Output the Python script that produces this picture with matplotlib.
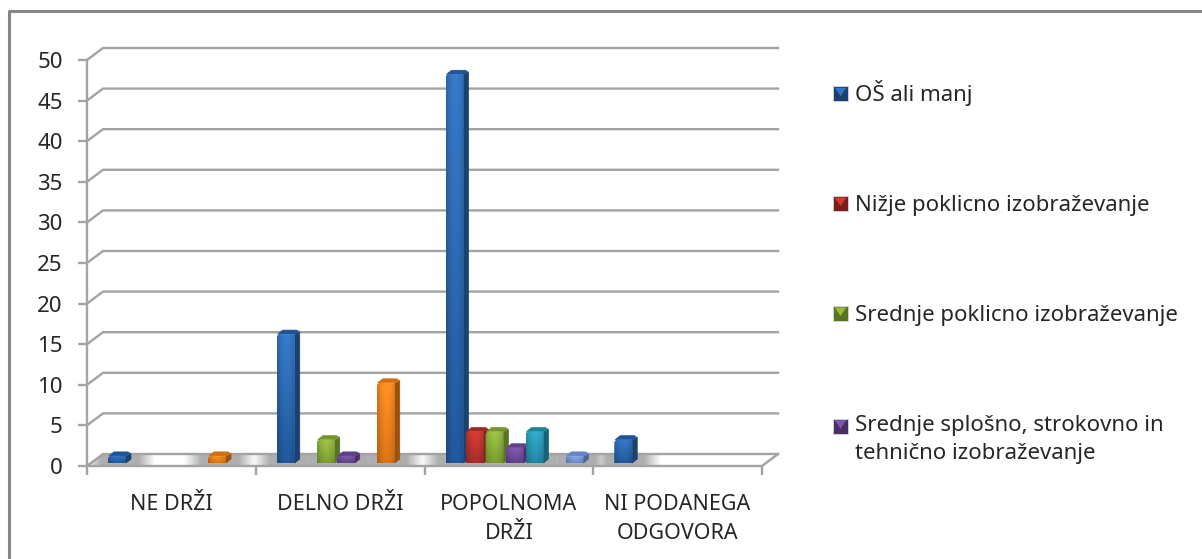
import numpy as np
import matplotlib
matplotlib.use('Agg')
import matplotlib.pyplot as plt
from matplotlib.colors import to_rgb
from matplotlib.legend_handler import HandlerBase
from matplotlib.patches import Patch, PathPatch, Polygon
from matplotlib.path import Path

plt.rcParams['font.family'] = ['Noto Sans', 'DejaVu Sans']

kategorije = ['NE DRŽI', 'DELNO DRŽI', 'POPOLNOMA\nDRŽI', 'NI PODANEGA\nODGOVORA']
legenda = ['OŠ ali manj', 'Nižje poklicno izobraževanje', 'Srednje poklicno izobraževanje',
           'Srednje splošno, strokovno in\ntehnično izobraževanje']

os_ali_manj = [1, 16, 48, 3]
nizje_poklicno = [0, 0, 4, 0]
srednje_poklicno = [0, 3, 4, 0]
srednje_splosno = [0, 1, 2, 0]
serija_5 = [0, 0, 4, 0]
serija_6 = [1, 10, 0, 0]
serija_7 = [0, 0, 1, 0]
serije = [os_ali_manj, nizje_poklicno, srednje_poklicno, srednje_splosno, serija_5, serija_6, serija_7]

# svetla, temna, stranska barva stolpca
barve = [('#3474c0', '#1f5595', '#1a416f'),
         ('#cf3a33', '#a02a26', '#7a1f1c'),
         ('#97bb42', '#76962f', '#5a7423'),
         ('#7f57ab', '#5f3f88', '#482f68'),
         ('#2ea6c4', '#20819b', '#186276'),
         ('#f88a22', '#d06f14', '#9a520e'),
         ('#86a5de', '#6585c4', '#4d6799')]

W, H = 1202, 559
fig = plt.figure(figsize=(W / 100, H / 100), dpi=100)
ax = fig.add_axes([87 / W, (H - 466) / H, 675 / W, 406 / H])
ax.set_xlim(0, 4)
ax.set_ylim(0, 50)
px = 4 / 675   # en piksel v enotah x
py = 50 / 406  # en piksel v enotah y
siva = '#a3a3a3'

# okvir grafikona
fig.add_artist(plt.Line2D([8.5 / W, 8.5 / W, 1], [0, (H - 11) / H, (H - 11) / H],
                          color='#868686', lw=2.2))

# tla s sencami pod stolpci
gx = np.linspace(0, 4 + 16 * px, 700)
senca = np.zeros_like(gx)
for s, vrednosti in enumerate(serije):
    for g, v in enumerate(vrednosti):
        if v > 0:
            a = g + (21 + 20 * s) * px
            b = a + 23 * px
            d = np.maximum(np.maximum(a - gx, gx - b), 0) / (24 * px)
            senca = np.maximum(senca, np.clip((1 - d) * 1.4, 0, 1))
tla = 1 - 0.32 * senca
slika = ax.imshow(np.tile(tla, (2, 1)), cmap='gray', vmin=0, vmax=1, aspect='auto', zorder=1,
                  extent=(0, 4 + 16 * px, 0, 12 * py), interpolation='bilinear')
rob = Polygon([(0, 0), (4, 0), (4 + 16 * px, 12 * py), (16 * px, 12 * py)], closed=True,
              transform=ax.transData, fc='none', ec='none')
ax.add_patch(rob)
slika.set_clip_path(rob)

# mrezne crte na zadnji steni
for v in range(0, 55, 5):
    ax.plot([0, 16 * px, 4 + 16 * px], [v, v + 12 * py, v + 12 * py], color=siva, lw=1.7,
            clip_on=False, zorder=2, solid_joinstyle='miter')
ax.plot([0, 4, 4 + 16 * px], [0, 0, 12 * py], color=siva, lw=1.7, clip_on=False, zorder=2)

# stolpci
SIRINA = 18 * px
GLOB_X = 5 * px
GLOB_Y = 4 * py
DNO = 3 * py
for s, vrednosti in enumerate(serije):
    sv, te, st = barve[s]
    for g, v in enumerate(vrednosti):
        if v == 0:
            continue
        x0 = g + (21 + 20 * s) * px
        x1 = x0 + SIRINA
        z = 3 + s + g * 0.01
        yt = DNO + v - 1 * py
        # stranska ploskev
        ax.add_patch(Polygon([(x1, DNO), (x1 + GLOB_X, DNO + GLOB_Y), (x1 + GLOB_X, yt + GLOB_Y - 2 * py),
                              (x1, yt)], closed=True, fc=st, ec=st, lw=0.5, zorder=z, clip_on=False))
        # zgornja ploskev
        ax.add_patch(Polygon([(x0 + 1 * px, yt), (x1, yt), (x1 + GLOB_X, yt + GLOB_Y - 2 * py),
                              (x1 + GLOB_X - 3 * px, yt + GLOB_Y), (x0 + 6 * px, yt + GLOB_Y)],
                             closed=True, fc=te, ec=te, lw=0.5, zorder=z, clip_on=False))
        # sprednja ploskev z gradientom
        n = 32
        a, b = np.array(to_rgb(sv)), np.array(to_rgb(te))
        t = np.linspace(0, 1, n)[:, None, None]
        vod = 0.72 + 0.28 * np.sin(np.linspace(0.35, 2.6, 18))[None, :, None]
        grad = np.clip((a * (1 - t) + b * t) * vod * 1.06, 0, 1)
        im = ax.imshow(grad, aspect='auto', extent=(x0, x1, DNO, yt), zorder=z + 0.1,
                       interpolation='bilinear')
        r = min(4, (yt - DNO) / py / 2)
        pot = Path([(x0, DNO), (x1, DNO), (x1, yt), (x0 + r * px, yt), (x0, yt),
                    (x0, yt - r * py), (x0, DNO)],
                   [Path.MOVETO, Path.LINETO, Path.LINETO, Path.LINETO, Path.CURVE3, Path.CURVE3,
                    Path.CLOSEPOLY])
        oblika = PathPatch(pot, fc='none', ec='none', transform=ax.transData, zorder=z)
        ax.add_patch(oblika)
        im.set_clip_path(oblika)

ax.set_xlim(0, 4)
ax.set_ylim(0, 50)

# osi
for k in ['top', 'right', 'bottom']:
    ax.spines[k].set_visible(False)
ax.spines['left'].set_color(siva)
ax.spines['left'].set_linewidth(1.7)
ax.set_yticks(range(0, 55, 5))
ax.set_xticks(range(5))
ax.set_xticklabels([])
ax.set_xticks(np.arange(4) + 0.5, kategorije, minor=True)
ax.tick_params(axis='both', which='major', color=siva, width=1.7, length=6.5, labelsize=16,
               labelcolor='#262626', pad=11)
ax.tick_params(axis='x', which='minor', length=0, labelsize=15.5, labelcolor='#262626', pad=20)
for oznaka in ax.get_xticklabels(minor=True):
    oznaka.set_linespacing(1.52)
    oznaka.set_verticalalignment('top')
ax.patch.set_alpha(0)


class Kvadratek(HandlerBase):
    def create_artists(self, legend, orig, xd, yd, width, height, fontsize, trans):
        a = 10.8
        x = -xd
        # pri dveh vrsticah je kvadratek ob prvi vrstici
        y = -yd + (10 if '\n' in orig.get_label() else 0)
        kv = plt.Rectangle((x, y), a, a, fc=orig.get_facecolor(), ec='#d8d8d8', lw=0.6, transform=trans)
        tr = Polygon([(x + 1.2, y + a - 1.2), (x + a - 1.2, y + a - 1.2), (x + a / 2, y + 3.5)], closed=True,
                     fc=orig.get_edgecolor(), ec='none', transform=trans)
        return [kv, tr]


rocice = [Patch(fc=barve[i][2], ec=barve[i][0], label=legenda[i]) for i in range(4)]
leg = fig.legend(rocice, legenda, loc='upper left', bbox_to_anchor=(833 / W, (H - 80) / H),
                 frameon=False, fontsize=16, labelspacing=4.0, handlelength=0.75, handletextpad=0.25,
                 borderpad=0, borderaxespad=0, labelcolor='#262626',
                 handler_map={Patch: Kvadratek()})
for besedilo in leg.get_texts():
    besedilo.set_linespacing(1.47)

fig.savefig('out.png', dpi=100, facecolor='white')
